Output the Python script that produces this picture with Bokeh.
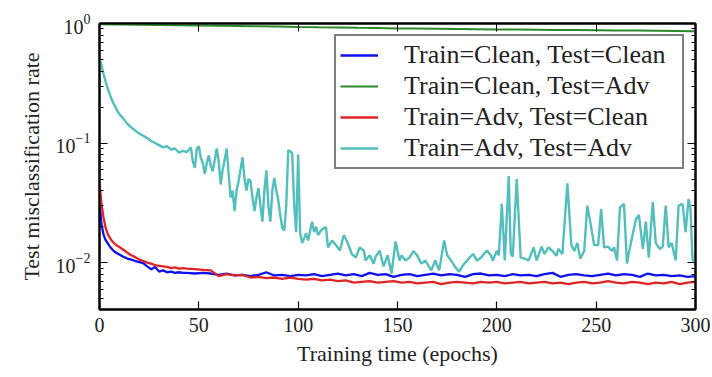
from bokeh.plotting import figure
from bokeh.models import Range1d, LogAxis, LinearAxis, FixedTicker, CustomJSTickFormatter
from bokeh.embed import file_html
from bokeh.resources import INLINE

# ---------------- data ----------------
x_ticks = [0, 50, 100, 150, 200, 250, 300]
y_ticks = [0.01, 0.1, 1.0]
y_minor = [0.005, 0.006, 0.007, 0.008, 0.009,
           0.02, 0.03, 0.04, 0.05, 0.06, 0.07, 0.08, 0.09,
           0.2, 0.3, 0.4, 0.5, 0.6, 0.7, 0.8, 0.9]

series_names = ["Train=Clean, Test=Clean", "Train=Clean, Test=Adv",
                "Train=Adv, Test=Clean", "Train=Adv, Test=Adv"]

# shared epoch grid for the two clean-test curves
epochs_clean = ([0, 1, 2, 3, 4, 5, 6, 7, 8, 9, 10]
                + [12, 14, 16, 18, 20, 22, 24, 26, 28, 30, 32, 34, 36, 38, 40, 42]
                + [44, 48, 52, 56, 60, 64, 68, 72, 76, 80,
                   84, 88, 92, 96, 100, 104, 108, 112, 116, 120,
                   124, 128, 132, 136, 140, 144, 148, 152, 156, 160,
                   164, 168, 172, 176, 180, 184, 188, 192, 196, 200,
                   204, 208, 212, 216, 220, 224, 228, 232, 236, 240,
                   244, 248, 252, 256, 260, 264, 268, 272, 276, 280,
                   284, 288, 292, 296, 300])

clean_clean = ([0.032, 0.021, 0.0172, 0.0155, 0.0146, 0.0138, 0.0131, 0.0126, 0.0122, 0.0119, 0.0117]
               + [0.0112, 0.0108, 0.0106, 0.0103, 0.0101, 0.0099, 0.0093, 0.0088, 0.0092, 0.0084,
                  0.0086, 0.0083, 0.0084, 0.0082, 0.0083, 0.0082]
               + [0.0082, 0.0081, 0.0082, 0.0081, 0.0079, 0.0081, 0.0078, 0.0079, 0.0077, 0.0079,
                  0.0083, 0.0078, 0.0079, 0.0077, 0.0079, 0.0078, 0.0080, 0.0077, 0.0079, 0.0081,
                  0.0078, 0.0080, 0.0077, 0.0082, 0.0079, 0.0080, 0.0076, 0.0079, 0.0080, 0.0077,
                  0.0079, 0.0081, 0.0078, 0.0080, 0.0079, 0.0076, 0.0080, 0.0081, 0.0078, 0.0079,
                  0.0077, 0.0080, 0.0078, 0.0079, 0.0077, 0.0080, 0.0082, 0.0076, 0.0079, 0.0080,
                  0.0078, 0.0077, 0.0079, 0.0081, 0.0078, 0.0080, 0.0079, 0.0076, 0.0081, 0.0078,
                  0.0079, 0.0077, 0.0078, 0.0076, 0.0077])

adv_clean = ([0.046, 0.031, 0.024, 0.0198, 0.0176, 0.0163, 0.0154, 0.0147, 0.0142, 0.0138, 0.0135]
             + [0.0128, 0.0121, 0.0115, 0.0111, 0.0106, 0.0103, 0.0100, 0.0098, 0.0095, 0.0094,
                0.0093, 0.0092, 0.0090, 0.0091, 0.0089, 0.0090]
             + [0.0089, 0.0088, 0.0087, 0.0086, 0.0077, 0.0080, 0.0078, 0.0079, 0.0075, 0.0076,
                0.0074, 0.0075, 0.0073, 0.0075, 0.0073, 0.0072, 0.0073, 0.0071, 0.0072, 0.0070,
                0.0071, 0.0068, 0.0069, 0.0070, 0.0068, 0.0069, 0.0070, 0.0068, 0.0069, 0.0067,
                0.0068, 0.0069, 0.0066, 0.0068, 0.0069, 0.0068, 0.0067, 0.0069, 0.0068, 0.0069,
                0.0067, 0.0068, 0.0069, 0.0067, 0.0068, 0.0069, 0.0067, 0.0068, 0.0066, 0.0068,
                0.0069, 0.0067, 0.0068, 0.0070, 0.0068, 0.0067, 0.0069, 0.0068, 0.0066, 0.0068,
                0.0067, 0.0069, 0.0066, 0.0068, 0.0069])

epochs_clean_adv = [0, 10, 20, 30, 40, 50, 60, 70, 80, 90, 100,
                    110, 120, 130, 140, 150, 160, 170, 180, 190, 200,
                    210, 220, 230, 240, 250, 260, 270, 280, 290, 300]
clean_adv = [0.985, 0.98, 0.975, 0.972, 0.968, 0.962, 0.958, 0.953, 0.948, 0.942, 0.935,
             0.93, 0.926, 0.92, 0.916, 0.91, 0.906, 0.903, 0.9, 0.897, 0.893,
             0.89, 0.887, 0.884, 0.881, 0.878, 0.875, 0.872, 0.869, 0.866, 0.862]

epochs_adv_adv = ([0, 1, 2, 3, 4, 5, 6, 7, 8, 9, 10]
                  + [12, 14, 16, 18, 20, 22, 24, 26, 28, 30]
                  + [32, 34, 36, 38, 40, 42, 44, 46, 47, 48]
                  + [49, 50, 51, 52, 53, 54, 55, 56, 57, 58]
                  + [59, 60, 61, 62, 63, 64, 65, 66, 67, 68]
                  + [69, 70, 71, 72, 73, 74, 75, 76, 77, 78]
                  + [79, 80, 81, 82, 83, 84, 85, 86, 87, 88]
                  + [89, 90, 91, 92, 93, 94, 95, 96, 97, 98]
                  + [99, 100, 101, 102, 103, 104, 105, 107, 108, 109]
                  + [110, 112, 114, 115, 117, 119, 121, 123, 125, 127]
                  + [129, 131, 133, 134, 136, 138, 139, 141, 143, 145]
                  + [147, 149, 151, 152, 154, 156, 158, 160, 162, 164]
                  + [167, 169, 171, 173.5, 175, 177, 179, 181, 183, 185]
                  + [188, 190, 192, 195, 197, 198, 200, 201, 202.5, 204]
                  + [206, 207, 208, 210, 212, 214, 216, 218.5, 220, 222.5]
                  + [224, 226, 228, 230, 231, 233, 235.5, 237.5, 239, 240.5]
                  + [242, 244, 245.5, 247, 249, 251, 252.5, 254, 256, 258]
                  + [259, 260.5, 262, 264, 265.5, 267, 270, 271.5, 273.5, 275]
                  + [276.5, 278.5, 280, 282, 283.5, 285, 286.5, 288, 290, 291.5]
                  + [293.5, 295, 296.5, 297.5, 298.5, 300])
adv_adv = ([0.52, 0.45, 0.38, 0.33, 0.29, 0.26, 0.235, 0.215, 0.20, 0.185, 0.175]
           + [0.16, 0.145, 0.135, 0.127, 0.12, 0.115, 0.11, 0.104, 0.10, 0.096]
           + [0.092, 0.094, 0.088, 0.09, 0.083, 0.086, 0.084, 0.092, 0.07, 0.062]
           + [0.09, 0.094, 0.075, 0.068, 0.055, 0.068, 0.079, 0.065, 0.058, 0.072]
           + [0.09, 0.07, 0.045, 0.06, 0.072, 0.09, 0.055, 0.035, 0.04, 0.027]
           + [0.04, 0.048, 0.06, 0.076, 0.05, 0.04, 0.05, 0.048, 0.035, 0.027]
           + [0.035, 0.042, 0.03, 0.022, 0.04, 0.059, 0.03, 0.022, 0.04, 0.051]
           + [0.04, 0.033, 0.025, 0.0195, 0.0185, 0.03, 0.087, 0.085, 0.082, 0.03]
           + [0.018, 0.08, 0.0176, 0.0146, 0.016, 0.0176, 0.0153, 0.022, 0.018, 0.02]
           + [0.017, 0.019, 0.0198, 0.0134, 0.0153, 0.014, 0.0126, 0.017, 0.0145, 0.0118]
           + [0.011, 0.0134, 0.0126, 0.0104, 0.0115, 0.0098, 0.0112, 0.0126, 0.0093, 0.0115]
           + [0.0081, 0.015, 0.0104, 0.0115, 0.0104, 0.011, 0.0125, 0.0114, 0.0098, 0.0104]
           + [0.0086, 0.0104, 0.0086, 0.0153, 0.0115, 0.0104, 0.0092, 0.0084, 0.0095, 0.0104]
           + [0.0118, 0.0104, 0.011, 0.0126, 0.0115, 0.0104, 0.0126, 0.0115, 0.031, 0.0104]
           + [0.053, 0.012, 0.0112, 0.05, 0.011, 0.0108, 0.0104, 0.0134, 0.0104, 0.0136]
           + [0.0118, 0.0134, 0.0125, 0.0114, 0.013, 0.0118, 0.046, 0.014, 0.0125, 0.0146]
           + [0.0108, 0.0125, 0.03, 0.022, 0.014, 0.014, 0.028, 0.0134, 0.0136, 0.0125]
           + [0.0134, 0.0104, 0.029, 0.031, 0.0098, 0.0134, 0.023, 0.025, 0.013, 0.022]
           + [0.011, 0.032, 0.0146, 0.013, 0.0136, 0.03, 0.0134, 0.0146, 0.0104, 0.03]
           + [0.031, 0.018, 0.034, 0.028, 0.0104, 0.0104])

# ---------------- figure ----------------
FONT = "Liberation Serif"
TXT = "#222222"

p = figure(width=712, height=377, y_axis_type="log",
           x_range=Range1d(0, 300), y_range=Range1d(0.00405, 1.0),
           output_backend="svg", toolbar_location=None,
           min_border_left=99, min_border_right=17, min_border_top=23, min_border_bottom=68,
           background_fill_color="white", border_fill_color="white")

p.xgrid.visible = False
p.ygrid.visible = False
p.outline_line_color = "black"
p.outline_line_width = 2

p.line(epochs_clean, clean_clean, line_color="#1010f0", line_width=2.3, legend_label=series_names[0])
p.line(epochs_clean_adv, clean_adv, line_color="#2a8a2a", line_width=2.0, legend_label=series_names[1])
p.line(epochs_clean, adv_clean, line_color="#e02424", line_width=2.3, legend_label=series_names[2])
p.line(epochs_adv_adv, adv_adv, line_color="#52bebe", line_width=2.4, legend_label=series_names[3])

# bottom / left axes
xa = p.xaxis[0]
xa.ticker = FixedTicker(ticks=x_ticks)
xa.axis_label = "Training time (epochs)"
ya = p.yaxis[0]
ya.ticker = FixedTicker(ticks=y_ticks, minor_ticks=y_minor)
ya.axis_label = "Test misclassification rate"

for ax in (xa, ya):
    ax.axis_line_color = "black"
    ax.axis_line_width = 2
    ax.major_tick_in = 8
    ax.major_tick_out = 0
    ax.minor_tick_in = 4
    ax.minor_tick_out = 0
    ax.major_tick_line_width = 1.2
    ax.major_label_text_font = FONT
    ax.major_label_text_font_size = "20px"
    ax.major_label_text_color = TXT
    ax.axis_label_text_font = FONT
    ax.axis_label_text_font_size = "22px"
    ax.axis_label_text_font_style = "normal"
    ax.axis_label_text_color = TXT
xa.minor_tick_line_color = None
xa.major_label_standoff = 8
xa.axis_label_standoff = 6
ya.major_label_standoff = 9
ya.axis_label_standoff = 9

# mirrored top / right axes (ticks only, blank labels)
blank = CustomJSTickFormatter(code="return ' '")
top = LinearAxis(ticker=FixedTicker(ticks=x_ticks), formatter=blank,
                 major_label_text_font_size="1px", major_label_text_color=None,
                 major_label_standoff=0, major_tick_in=8, major_tick_out=0,
                 minor_tick_line_color=None, axis_line_width=2)
right = LogAxis(ticker=FixedTicker(ticks=y_ticks, minor_ticks=y_minor), formatter=blank,
                major_label_text_font_size="1px", major_label_text_color=None,
                major_label_standoff=0,
                major_tick_in=8, major_tick_out=0, minor_tick_in=4, minor_tick_out=0,
                axis_line_width=2)
p.add_layout(top, "above")
p.add_layout(right, "right")

# legend
lg = p.legend[0]
lg.location = "top_right"
lg.margin = 11
lg.padding = 4
lg.spacing = 1
lg.border_line_color = "black"
lg.border_line_width = 2
lg.background_fill_color = "white"
lg.background_fill_alpha = 1.0
lg.label_text_font = FONT
lg.label_text_font_size = "26px"
lg.label_text_color = TXT
lg.glyph_width = 38
lg.glyph_height = 20
lg.label_standoff = 26
lg.label_height = 28
lg.label_width = 274

open("out.html", "w").write(file_html(p, INLINE))
